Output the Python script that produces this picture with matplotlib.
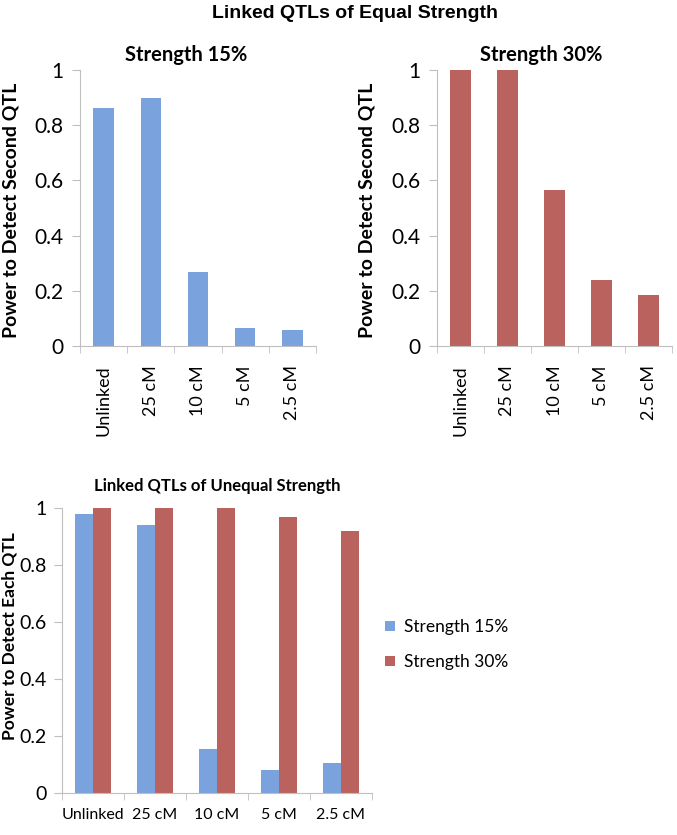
import numpy as np
import matplotlib
matplotlib.use('Agg')
import matplotlib.pyplot as plt

plt.rcParams['font.family'] = ['Lato', 'DejaVu Sans']

categories = ["Unlinked", "25 cM", "10 cM", "5 cM", "2.5 cM"]
equal_15 = [0.861, 0.900, 0.268, 0.064, 0.057]
equal_30 = [1.0, 1.0, 0.565, 0.238, 0.184]
unequal_15 = [0.979, 0.940, 0.154, 0.080, 0.107]
unequal_30 = [1.0, 1.0, 1.0, 0.967, 0.920]

blue = '#7AA2DC'
red = '#B9625E'
axis_gray = '#BFBFBF'

W, H = 677, 835


def style_axes(ax, n, rotate, xsize, xpad, ysize, ypad):
    ax.set_xlim(0, n)
    ax.set_ylim(0, 1)
    ax.set_yticks([0, 0.2, 0.4, 0.6, 0.8, 1.0])
    ax.set_yticklabels(['0', '0.2', '0.4', '0.6', '0.8', '1'], fontsize=ysize)
    ax.set_xticks(np.arange(n) + 0.5)
    ax.set_xticklabels(categories, fontsize=xsize, rotation=90 if rotate else 0)
    ax.set_xticks(np.arange(n + 1), minor=True)
    ax.tick_params(axis='x', which='major', length=0, pad=xpad)
    ax.tick_params(axis='x', which='minor', length=5, color=axis_gray)
    ax.tick_params(axis='y', length=6, color=axis_gray, pad=ypad)
    for s in ['top', 'right']:
        ax.spines[s].set_visible(False)
    for s in ['left', 'bottom']:
        ax.spines[s].set_color(axis_gray)


def place_ylabel(ax, text, size, xpos, ypos):
    ax.set_ylabel(text, fontsize=size, fontweight='bold')
    ax.yaxis.label.set_va('center')
    ax.yaxis.set_label_coords(xpos, ypos)


fig = plt.figure(figsize=(W / 100, H / 100), dpi=100)
x = np.arange(len(categories)) + 0.5

# top left: equal strength 15%
ax1 = fig.add_axes([80 / W, 1 - 346 / H, 236 / W, 276 / H])
ax1.bar(x, equal_15, width=0.43, color=blue)
style_axes(ax1, len(categories), True, 13, 14, 15, 6)
place_ylabel(ax1, 'Power to Detect Second QTL', 14, -0.292, 0.493)

# top right: equal strength 30%
ax2 = fig.add_axes([437 / W, 1 - 346 / H, 235 / W, 276 / H])
ax2.bar(x, equal_30, width=0.43, color=red)
style_axes(ax2, len(categories), True, 13, 14, 15, 6)
place_ylabel(ax2, 'Power to Detect Second QTL', 14, -0.298, 0.493)

fig.text(186 / W, 1 - 55 / H, 'Strength 15%', ha='center', va='center',
         fontsize=14.5, fontweight='bold')
fig.text(541 / W, 1 - 55 / H, 'Strength 30%', ha='center', va='center',
         fontsize=14.5, fontweight='bold')
fig.text(355 / W, 1 - 13 / H, 'Linked QTLs of Equal Strength', ha='center', va='center',
         fontsize=14, fontweight='bold', family=['Liberation Sans', 'DejaVu Sans'])

# bottom: unequal strength
ax3 = fig.add_axes([62 / W, 1 - 793 / H, 310 / W, 285 / H])
w = 0.285
ax3.bar(x - w / 2, unequal_15, width=w, color=blue, label='Strength 15%')
ax3.bar(x + w / 2, unequal_30, width=w, color=red, label='Strength 30%')
style_axes(ax3, len(categories), False, 11.5, 11, 14, 5)
place_ylabel(ax3, 'Power to Detect Each QTL', 12.5, -0.17, 0.551)
ax3.set_title('Linked QTLs of Unequal Strength', fontsize=12, fontweight='bold', pad=12)
ax3.legend(loc='center left', bbox_to_anchor=(1.042, 0.52), frameon=False,
           borderpad=0, borderaxespad=0, fontsize=12.5, handlelength=0.55,
           handleheight=0.55, handletextpad=0.55, labelspacing=1.1)

fig.savefig('out.png', dpi=100)
